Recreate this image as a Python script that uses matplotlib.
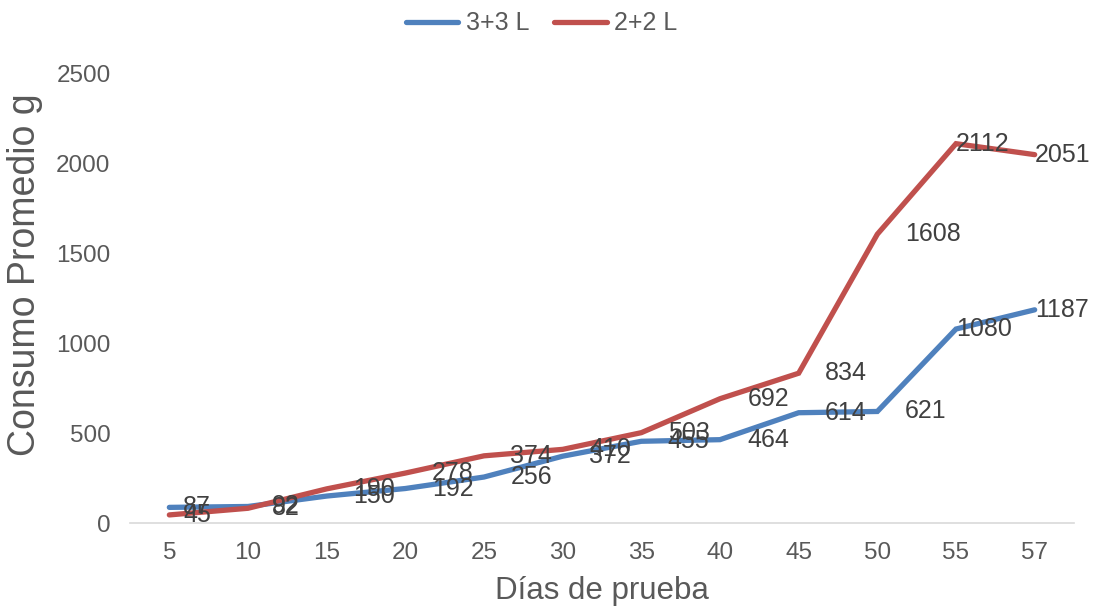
import matplotlib
matplotlib.use("Agg")
import matplotlib.pyplot as plt

plt.rcParams['font.family'] = ['Liberation Sans', 'DejaVu Sans']

# Test days (categorical axis)
dias = ["5", "10", "15", "20", "25", "30", "35", "40", "45", "50", "55", "57"]

# Average consumption (g) per treatment
consumo_3x3 = [87, 92, 150, 192, 256, 372, 455, 464, 614, 621, 1080, 1187]
consumo_2x2 = [45, 82, 190, 278, 374, 410, 503, 692, 834, 1608, 2112, 2051]

series = [
    ("3+3 L", consumo_3x3, "#4f81bd"),
    ("2+2 L", consumo_2x2, "#c0504d"),
]

# horizontal gap (points) between each point and the left edge of its label
label_dx = [10, 17, 19, 19, 19, 19, 19, 20, 19, 20, 0, 0]

fig = plt.figure(figsize=(10.99, 6.14), dpi=100)
ax = fig.add_axes([130 / 1099, 1 - 523 / 614, (1074 - 130) / 1099, (523 - 74) / 614])

x = list(range(len(dias)))
for nombre, valores, color in series:
    ax.plot(x, valores, color=color, lw=3.8, label=nombre, solid_capstyle="round",
            solid_joinstyle="miter")
    for xi, v, dx in zip(x, valores, label_dx):
        ax.annotate(str(v), (xi, v), xytext=(dx, 0), textcoords="offset points",
                    ha="left", va="center", fontsize=18, color="#404040")

ax.set_xlim(-0.5, len(dias) - 0.5)
ax.set_ylim(0, 2500)
ax.set_yticks([0, 500, 1000, 1500, 2000, 2500])
ax.set_xticks(x)
ax.set_xticklabels(dias)
ax.tick_params(axis="both", length=0, labelsize=17.5, labelcolor="#595959")
ax.tick_params(axis="x", pad=14)
ax.tick_params(axis="y", pad=14)

for s in ["top", "right", "left"]:
    ax.spines[s].set_visible(False)
ax.spines["bottom"].set_color("#d9d9d9")
ax.spines["bottom"].set_linewidth(1.2)

ax.set_xlabel("Días de prueba", fontsize=22.5, color="#595959", labelpad=8)
ax.set_ylabel("Consumo Promedio g", fontsize=27, color="#595959")
ax.yaxis.set_label_coords(-0.092, 0.552)

fig.legend(loc="upper center", bbox_to_anchor=(0.493, 1.018), ncol=2, frameon=False,
           fontsize=18, labelcolor="#595959", handlelength=2.1, columnspacing=1.0,
           handletextpad=0.3)

fig.savefig("out.png", dpi=100)
